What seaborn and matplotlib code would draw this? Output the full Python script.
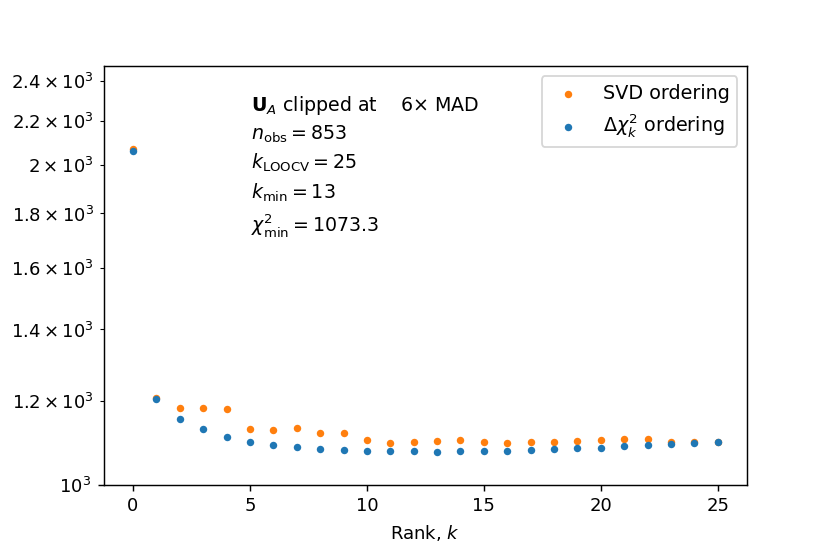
"""
Chi-squared vs. rank for two orderings of the singular vectors
"""
import numpy as np
import pandas as pd
import seaborn as sns
import matplotlib
matplotlib.use("Agg")
import matplotlib.pyplot as plt

rank = list(range(26))

# chi^2 with SVD ordering
chi2_svd = [2072, 1208, 1182, 1181, 1179, 1128, 1127, 1131, 1118, 1118,
            1101, 1095, 1097, 1100, 1102, 1096, 1094, 1096, 1098, 1100,
            1101, 1104, 1105, 1098, 1097, 1097]

# chi^2 with delta chi^2_k ordering
chi2_dchi = [2063, 1204, 1154, 1128, 1110, 1098, 1091, 1085, 1080, 1079,
             1077, 1076, 1076, 1073.3, 1075, 1076, 1077, 1078, 1080, 1082,
             1084, 1087, 1089, 1092, 1094, 1097]

n_obs = 853
k_loocv = 25
k_min = 13
chi2_min = 1073.3
clip = 6

df = pd.DataFrame({"rank": rank, "svd": chi2_svd, "dchi": chi2_dchi})

fig, ax = plt.subplots(figsize=(830 / 130, 554 / 130), dpi=130)
fig.subplots_adjust(left=0.125, right=0.9, top=0.88, bottom=0.125)

sns.scatterplot(data=df, x="rank", y="svd", color="tab:orange", linewidth=0,
                s=17, label="SVD ordering", ax=ax)
sns.scatterplot(data=df, x="rank", y="dchi", color="tab:blue", linewidth=0,
                s=17, label=r"$\Delta\chi^2_k$ ordering", ax=ax)

ax.set_yscale("log")
ax.set_ylim(1000, 2475)
ax.set_xlabel(r"Rank, $k$")
ax.set_ylabel("")

info = (r"$\mathbf{U}_A$ clipped at    " + f"{clip}" + r"$\times$ MAD" + "\n"
        + r"$n_{\rm obs} = %d$" % n_obs + "\n"
        + r"$k_{\rm LOOCV} = %d$" % k_loocv + "\n"
        + r"$k_{\rm min} = %d$" % k_min + "\n"
        + r"$\chi^2_{\rm min} = %.1f$" % chi2_min)
ax.text(0.229, 0.935, info, transform=ax.transAxes, va="top", ha="left",
        fontsize=10.5, linespacing=1.42)

ax.legend(loc="upper right", fontsize=10.6)

plt.savefig("out.png", dpi=130)
